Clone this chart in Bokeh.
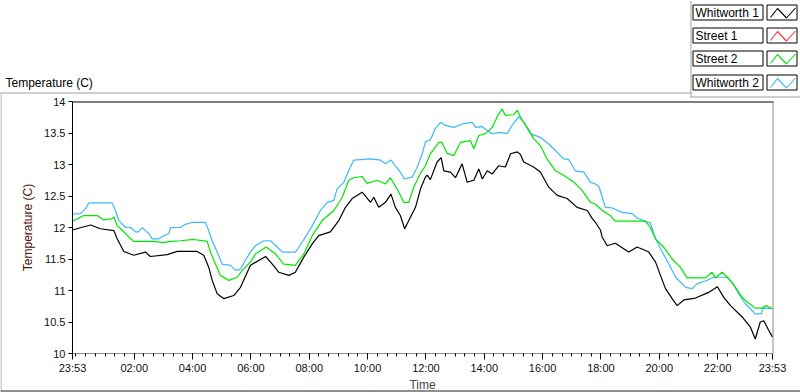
from bokeh.plotting import figure
from bokeh.models import (Range1d, FixedTicker, NumeralTickFormatter, Label,
                          BoxAnnotation, PolyAnnotation)
from bokeh.embed import file_html
from bokeh.resources import INLINE

# ---------------- data (hours after the 23:53 start, temperature in C) ----------------
hours_whitworth1 = [0.00, 0.30, 0.62, 0.96, 1.42, 1.53, 1.76, 2.10, 2.50, 2.67, 3.25, 3.59, 4.27, 4.50,
                    4.67, 4.79, 4.96, 5.19, 5.53, 5.76, 6.10, 6.62, 6.85, 7.07, 7.42, 7.64, 7.93, 8.22,
                    8.44, 8.84, 9.13, 9.36, 9.59, 9.93, 10.22, 10.33, 10.50, 10.73, 10.92, 11.07, 11.24,
                    11.39, 11.53, 11.76, 11.93, 12.10, 12.16, 12.27, 12.50, 12.64, 12.73, 12.96, 13.13,
                    13.36, 13.53, 13.76, 13.93, 14.05, 14.22, 14.39, 14.61, 14.84, 15.02, 15.25, 15.36,
                    15.47, 15.81, 16.04, 16.33, 16.62, 16.96, 17.30, 17.65, 17.82, 17.93, 18.10, 18.16,
                    18.33, 18.61, 19.07, 19.36, 19.76, 19.99, 20.16, 20.33, 20.56, 20.73, 20.96, 21.36,
                    21.81, 22.11, 22.33, 22.56, 22.96, 23.24, 23.41, 23.58, 23.70, 23.87, 24.00]
temp_whitworth1 = [11.96, 12.00, 12.04, 11.98, 11.95, 11.82, 11.62, 11.56, 11.61, 11.54, 11.57, 11.62, 11.62, 11.56,
                   11.37, 11.16, 10.95, 10.87, 10.92, 11.05, 11.40, 11.54, 11.42, 11.29, 11.24, 11.29, 11.53, 11.74,
                   11.87, 11.93, 12.11, 12.32, 12.46, 12.56, 12.40, 12.48, 12.32, 12.40, 12.53, 12.32, 12.19,
                   11.98, 12.11, 12.32, 12.61, 12.80, 12.83, 12.76, 13.04, 13.11, 12.90, 12.88, 12.79,
                   13.01, 12.72, 12.75, 12.93, 12.77, 12.90, 12.85, 12.98, 12.96, 13.17, 13.20, 13.16,
                   13.04, 12.96, 12.88, 12.64, 12.51, 12.46, 12.32, 12.27, 12.14, 12.08, 11.96, 11.85,
                   11.71, 11.75, 11.61, 11.69, 11.61, 11.45, 11.24, 11.03, 10.87, 10.76, 10.85, 10.88,
                   10.97, 11.06, 10.89, 10.76, 10.58, 10.42, 10.23, 10.50, 10.52, 10.37, 10.26]

hours_street2 = [0.00, 0.39, 0.85, 1.07, 1.36, 1.42, 1.53, 1.70, 1.93, 2.10, 2.79, 3.13, 3.36, 3.70, 4.16,
                 4.62, 4.73, 4.90, 5.07, 5.36, 5.65, 5.82, 6.10, 6.27, 6.64, 6.96, 7.24, 7.64, 7.93, 8.22,
                 8.56, 8.96, 9.25, 9.47, 9.64, 9.93, 10.10, 10.45, 10.73, 10.90, 11.13, 11.36, 11.53, 11.70,
                 11.93, 12.10, 12.27, 12.56, 12.67, 12.84, 13.07, 13.30, 13.64, 13.76, 13.93, 14.16, 14.39,
                 14.61, 14.73, 14.84, 15.13, 15.25, 15.36, 15.59, 15.81, 16.04, 16.27, 16.56, 16.84, 17.19,
                 17.47, 17.76, 17.93, 18.16, 18.44, 18.61, 19.64, 19.81, 19.99, 20.27, 20.56, 20.84, 21.07,
                 21.70, 21.93, 22.04, 22.27, 22.50, 22.73, 22.96, 23.18, 23.41, 23.64, 23.78, 24.00]
temp_street2 = [12.10, 12.19, 12.19, 12.12, 12.14, 12.17, 12.03, 11.96, 11.85, 11.78, 11.78, 11.76, 11.78, 11.79, 11.81,
                11.78, 11.61, 11.42, 11.24, 11.16, 11.21, 11.32, 11.45, 11.58, 11.69, 11.58, 11.42, 11.40, 11.58, 11.87,
                12.11, 12.27, 12.48, 12.75, 12.79, 12.81, 12.70, 12.75, 12.69, 12.79, 12.61, 12.40, 12.40, 12.64,
                12.86, 12.98, 13.17, 13.35, 13.35, 13.18, 13.14, 13.35, 13.38, 13.25, 13.46, 13.49, 13.59,
                13.80, 13.88, 13.78, 13.79, 13.86, 13.75, 13.59, 13.41, 13.30, 13.09, 12.90, 12.83, 12.72,
                12.59, 12.40, 12.37, 12.27, 12.19, 12.10, 12.10, 12.00, 11.82, 11.69, 11.50, 11.37, 11.20,
                11.20, 11.29, 11.20, 11.29, 11.19, 11.05, 10.89, 10.80, 10.72, 10.72, 10.76, 10.71]

hours_whitworth2 = [0.00, 0.27, 0.45, 0.56, 1.36, 1.47, 1.59, 1.82, 1.99, 2.16, 2.27, 2.39, 2.50, 2.62, 2.73,
                    2.96, 3.13, 3.30, 3.36, 3.70, 3.87, 4.10, 4.56, 4.67, 4.79, 4.96, 5.13, 5.42, 5.59, 5.76,
                    5.93, 6.10, 6.27, 6.56, 6.79, 7.02, 7.19, 7.64, 7.76, 7.99, 8.22, 8.50, 8.73, 8.96, 9.07,
                    9.30, 9.47, 9.64, 10.22, 10.56, 10.73, 10.92, 11.07, 11.24, 11.38, 11.65, 11.82, 11.99,
                    12.10, 12.27, 12.44, 12.62, 12.79, 13.07, 13.41, 13.70, 13.82, 14.05, 14.22, 14.39, 14.67,
                    14.90, 15.07, 15.30, 15.47, 15.70, 16.04, 16.27, 16.50, 16.84, 17.01, 17.24, 17.53, 17.76,
                    17.93, 18.05, 18.15, 18.27, 18.50, 18.84, 19.19, 19.36, 19.64, 19.81, 19.99, 20.22, 20.45,
                    20.68, 21.02, 21.25, 21.42, 21.70, 21.99, 22.44, 22.62, 22.84, 23.07, 23.24, 23.41, 23.62,
                    23.66, 24.00]
temp_whitworth2 = [12.21, 12.22, 12.30, 12.39, 12.39, 12.27, 12.11, 12.00, 12.00, 11.93, 11.93, 12.00, 11.95, 11.90, 11.82,
                   11.82, 11.87, 11.90, 12.00, 12.00, 12.05, 12.08, 12.08, 11.95, 11.79, 11.61, 11.42, 11.40, 11.32, 11.34,
                   11.48, 11.61, 11.71, 11.79, 11.79, 11.69, 11.61, 11.61, 11.69, 11.85, 12.03, 12.27, 12.40, 12.43, 12.61,
                   12.72, 12.90, 13.07, 13.09, 13.07, 13.01, 13.07, 12.98, 12.88, 12.77, 12.80, 12.96, 13.17,
                   13.36, 13.39, 13.57, 13.67, 13.62, 13.59, 13.65, 13.67, 13.59, 13.60, 13.54, 13.49, 13.51,
                   13.49, 13.62, 13.76, 13.67, 13.49, 13.43, 13.35, 13.25, 13.09, 13.08, 12.90, 12.88, 12.72,
                   12.69, 12.65, 12.50, 12.32, 12.31, 12.24, 12.22, 12.15, 12.10, 12.07, 11.82, 11.61, 11.42,
                   11.21, 11.05, 11.03, 11.11, 11.15, 11.21, 11.21, 11.13, 10.95, 10.79, 10.71, 10.63, 10.63,
                   10.72, 10.71]

series_names = ["Whitworth 1", "Street 1", "Street 2", "Whitworth 2"]
series_colors = ["#000000", "#ff3030", "#00e600", "#3cb9f5"]

start_clock = "23:53"
clock_labels = ["02:00", "04:00", "06:00", "08:00", "10:00", "12:00",
                "14:00", "16:00", "18:00", "20:00", "22:00"]
y_ticks = [10, 10.5, 11, 11.5, 12, 12.5, 13, 13.5, 14]
x_span_min = 1440          # one day of minutes shown
y_lo, y_hi = 10, 14


# ---------------- helpers ----------------
def clock_to_min(s):
    h, m = map(int, s.split(":"))
    sh, sm = map(int, start_clock.split(":"))
    return ((h * 60 + m) - (sh * 60 + sm)) % 1440


def to_min(hours):
    return [h * 60 for h in hours]


W, H = 800, 392
FL, FR, FT, FB = 72, 772, 101, 353   # plot-area edges in canvas pixels

# ranges chosen so that the data area sits at FL..FR / FT..FB while the
# frame covers the whole canvas (so title/legend annotations are not clipped)
xppu = (FR - FL) / x_span_min
yppu = (FB - FT) / (y_hi - y_lo)
x_range = Range1d(0 - FL / xppu, x_span_min + (W - FR) / xppu)
y_range = Range1d(y_lo - (H - FB) / yppu, y_hi + FT / yppu)


def sx(X):
    return X


def sy(Y):
    return H - Y


FONT = "Liberation Sans"

p = figure(width=W, height=H, output_backend="svg", toolbar_location=None,
           x_range=x_range, y_range=y_range,
           min_border_left=0, min_border_right=0, min_border_top=0, min_border_bottom=0)
p.outline_line_color = None
p.background_fill_color = "white"
p.border_fill_color = "white"
p.xgrid.visible = False
p.ygrid.visible = False

# series
p.line(to_min(hours_whitworth2), temp_whitworth2, line_color=series_colors[3], line_width=1.2)
p.line(to_min(hours_street2), temp_street2, line_color=series_colors[2], line_width=1.2)
p.line(to_min(hours_whitworth1), temp_whitworth1, line_color=series_colors[0], line_width=1.2)

# x axis
major = [0] + [clock_to_min(c) for c in clock_labels] + [x_span_min]
minor = [m for m in range(clock_to_min("00:00"), x_span_min + 1, 20)]
p.xaxis.ticker = FixedTicker(ticks=major, minor_ticks=minor)
overrides = {0: start_clock, x_span_min: start_clock}
for c in clock_labels:
    overrides[clock_to_min(c)] = c
p.xaxis.major_label_overrides = overrides
p.xaxis.fixed_location = y_lo
p.xaxis.bounds = (0, x_span_min)
p.xaxis.axis_label = "Time"
p.xaxis.axis_line_color = "#8c8c8c"
p.xaxis.major_tick_in = 0
p.xaxis.major_tick_out = 6
p.xaxis.minor_tick_in = 0
p.xaxis.minor_tick_out = 3
p.xaxis.major_tick_line_color = "black"
p.xaxis.minor_tick_line_color = "black"
p.xaxis.major_label_standoff = 2
p.xaxis.axis_label_standoff = 1

# y axis
p.yaxis.ticker = FixedTicker(ticks=y_ticks, minor_ticks=[])
p.yaxis.formatter = NumeralTickFormatter(format="0.[0]")
p.yaxis.fixed_location = 0
p.yaxis.bounds = (y_lo, y_hi)
p.yaxis.axis_label = "Temperature (C)"
p.yaxis.axis_label_text_color = "#501212"
p.yaxis.axis_line_color = "black"
p.yaxis.major_tick_in = 0
p.yaxis.major_tick_out = 4
p.yaxis.minor_tick_line_color = None
p.yaxis.major_label_standoff = 3
p.yaxis.axis_label_standoff = 6

for ax in (p.xaxis, p.yaxis):
    ax.major_label_text_font = FONT
    ax.major_label_text_font_size = "11px"
    ax.major_label_text_color = "#101010"
    ax.axis_label_text_font = FONT
    ax.axis_label_text_font_size = "12px"
    ax.axis_label_text_font_style = "normal"


def box(x0, x1, y0, y1, fill=None, line=None):
    p.add_layout(BoxAnnotation(left=sx(x0), right=sx(x1), top=sy(y0), bottom=sy(y1),
                               left_units="screen", right_units="screen",
                               top_units="screen", bottom_units="screen",
                               fill_color=fill, fill_alpha=1 if fill else 0,
                               line_color=line, line_alpha=1, line_width=1))


# plot-area top (black) and right (grey) borders
box(FL, FR + 1, FT, FT + 1, fill="black")
box(FR, FR + 1, FT, FB, fill="#8c8c8c")

# panel frame lines
box(0, 690, 92, 93, fill="#a0a0a0")
box(690, 691, 0, 97, fill="#a0a0a0")
box(690, 800, 96, 97, fill="#a0a0a0")
box(0, 1, 92, 391, fill="#a0a0a0")
box(0, 800, 390, 391, fill="#202020")

# chart title at top left
p.add_layout(Label(x=sx(5), y=sy(82), x_units="screen", y_units="screen", text="Temperature (C)",
                   text_font=FONT, text_font_size="12px", text_baseline="middle", text_color="black"))

# legend (label box on the left, line sample box on the right)
row_tops = [4, 27, 50, 74]
for top, name, col in zip(row_tops, series_names, series_colors):
    bot = top + 15
    box(692.5, 762.5, top + 0.5, bot + 0.5, fill="white", line="black")
    box(766.5, 796.5, top + 0.5, bot + 0.5, fill="white", line="black")
    p.add_layout(Label(x=sx(695), y=sy(top + 8), x_units="screen", y_units="screen", text=name,
                       text_font=FONT, text_font_size="12px", text_baseline="middle", text_color="black"))
    zx = [770, 777, 786, 795, 786, 777]
    zy = [top + 13, top + 4, top + 13.5, top + 3.5, top + 13.5, top + 4]
    p.add_layout(PolyAnnotation(xs=[sx(v) for v in zx], ys=[sy(v) for v in zy],
                                xs_units="screen", ys_units="screen",
                                fill_alpha=0, line_color=col, line_alpha=1, line_width=1.1))

open("out.html", "w").write(file_html(p, INLINE))
